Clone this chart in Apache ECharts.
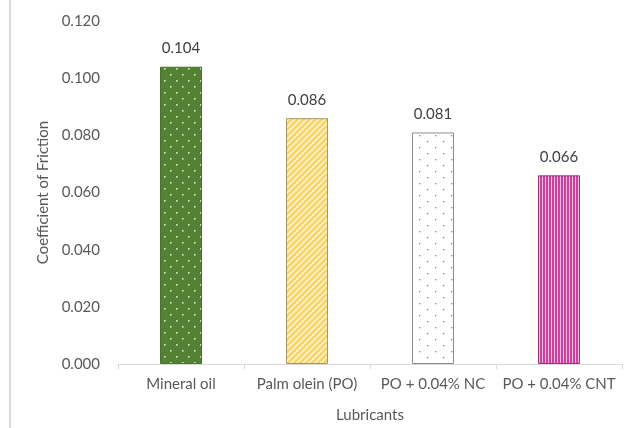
<!DOCTYPE html>
<html>
<head>
<meta charset="utf-8">
<script src="https://cdn.jsdelivr.net/npm/echarts@6/dist/echarts.min.js"></script>
<style>
  html, body { margin: 0; padding: 0; background: #ffffff; }
  #chart { width: 633px; height: 428px; }
</style>
</head>
<body>
<div id="chart"></div>
<script>
// Coefficient of friction for each lubricant
const lubricants = ['Mineral oil', 'Palm olein (PO)', 'PO + 0.04% NC', 'PO + 0.04% CNT'];
const friction = [0.104, 0.086, 0.081, 0.066];
const yTicks = [0, 0.02, 0.04, 0.06, 0.08, 0.1, 0.12];

// Small tiled canvases used as bar fill patterns
function tile(w, h, draw) {
  const c = document.createElement('canvas');
  c.width = w; c.height = h;
  draw(c.getContext('2d'), w, h);
  return c;
}

const dottedGreen = tile(12, 12, (g, w, h) => {
  g.fillStyle = '#548235'; g.fillRect(0, 0, w, h);
  g.fillStyle = '#d6ecc4';
  g.fillRect(2, 2, 1.6, 1.6);
  g.fillRect(8, 8, 1.6, 1.6);
});

const stripedYellow = tile(6, 6, (g, w, h) => {
  g.fillStyle = '#f7d56a'; g.fillRect(0, 0, w, h);
  g.strokeStyle = '#fff7dc'; g.lineWidth = 1.4;
  g.beginPath();
  g.moveTo(-1, 7); g.lineTo(7, -1);
  g.moveTo(-4, 4); g.lineTo(4, -4);
  g.moveTo(2, 10); g.lineTo(10, 2);
  g.stroke();
});

const dottedWhite = tile(16, 12, (g, w, h) => {
  g.fillStyle = '#ffffff'; g.fillRect(0, 0, w, h);
  g.fillStyle = '#7f7f7f';
  g.fillRect(3, 3, 1.3, 1.3);
  g.fillRect(11, 9, 1.3, 1.3);
});

const stripedMagenta = tile(3, 4, (g, w, h) => {
  g.fillStyle = '#c4449e'; g.fillRect(0, 0, w, h);
  g.fillStyle = '#f2b8de'; g.fillRect(2, 0, 1, h);
});

const fills = [
  { image: dottedGreen, border: '#46702b' },
  { image: stripedYellow, border: '#a89466' },
  { image: dottedWhite, border: '#8c8c8c' },
  { image: stripedMagenta, border: '#9c3080' }
];

const textColor = '#595959';
const fontFamily = 'Lato, "Open Sans", sans-serif';
const fontSize = 15;

const chart = echarts.init(document.getElementById('chart'), null, { renderer: 'canvas' });

chart.setOption({
  backgroundColor: '#ffffff',
  animation: false,
  graphic: [{
    type: 'rect',
    shape: { x: 9, y: 0, width: 2, height: 428 },
    style: { fill: '#d9d9d9' },
    silent: true
  }],
  grid: { left: 118, right: 11, top: 21, bottom: 62, containLabel: false },
  xAxis: {
    type: 'category',
    data: lubricants,
    name: 'Lubricants',
    nameLocation: 'middle',
    nameGap: 44,
    nameTextStyle: { color: textColor, fontSize, fontFamily },
    axisLine: { show: true, lineStyle: { color: '#d9d9d9', width: 1 } },
    axisTick: { show: true, alignWithLabel: false, length: 5, lineStyle: { color: '#d9d9d9' } },
    axisLabel: { color: textColor, fontSize, fontFamily, margin: 13, interval: 0 }
  },
  yAxis: {
    type: 'value',
    min: 0,
    max: yTicks[yTicks.length - 1],
    interval: yTicks[1] - yTicks[0],
    name: 'Coefficient of Friction',
    nameLocation: 'middle',
    nameGap: 66,
    nameRotate: 90,
    nameTextStyle: { color: textColor, fontSize, fontFamily },
    axisLine: { show: false },
    axisTick: { show: false },
    splitLine: { show: false },
    axisLabel: {
      color: textColor, fontSize, fontFamily, margin: 18,
      formatter: v => v.toFixed(3)
    }
  },
  series: [{
    type: 'bar',
    barWidth: 42,
    data: friction.map((v, i) => ({
      value: v,
      itemStyle: {
        color: { image: fills[i].image, repeat: 'repeat' },
        borderColor: fills[i].border,
        borderWidth: 1
      }
    })),
    label: {
      show: true,
      position: 'top',
      distance: 11,
      color: '#404040',
      fontSize,
      fontFamily,
      formatter: p => p.value.toFixed(3)
    }
  }]
});
</script>
</body>
</html>
